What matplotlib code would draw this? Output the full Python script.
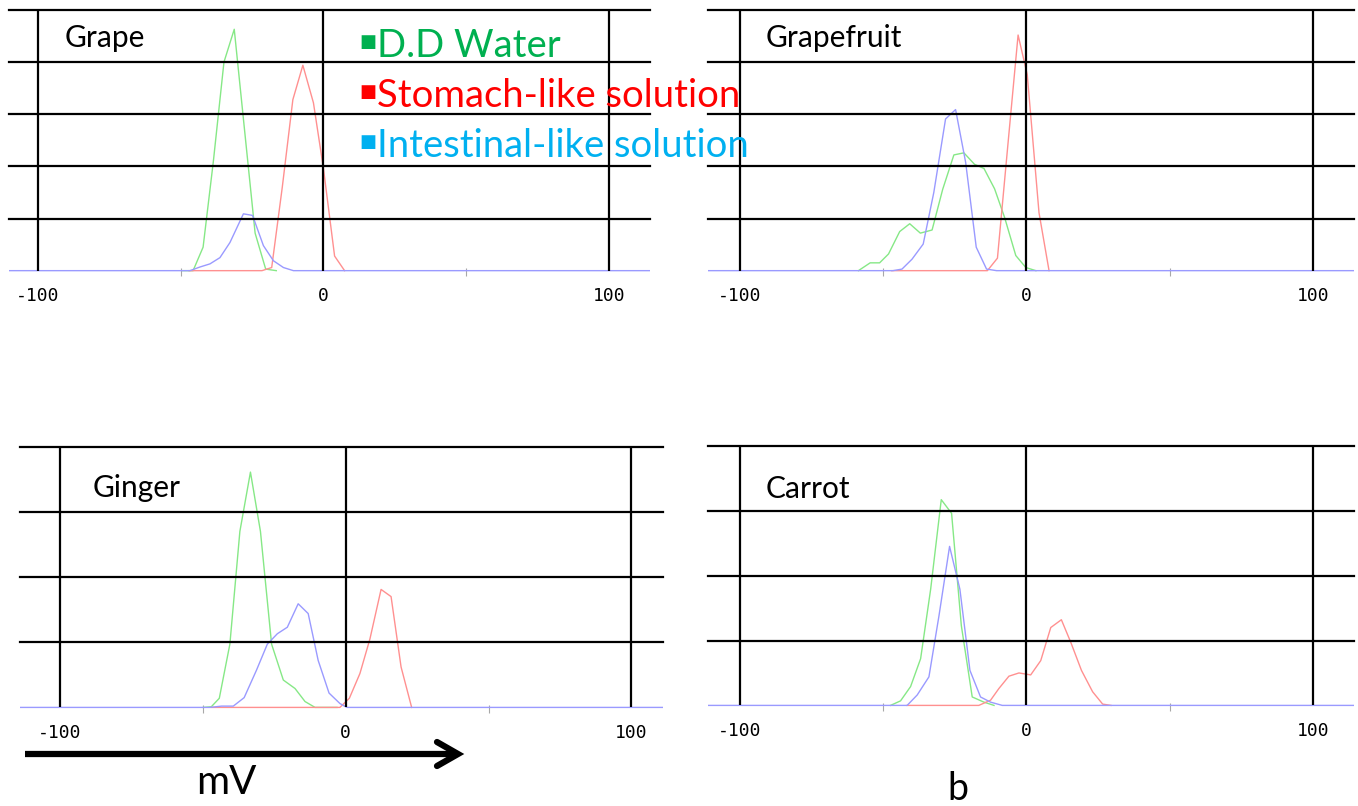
import matplotlib
matplotlib.use('Agg')
import matplotlib.pyplot as plt
from matplotlib.lines import Line2D

W, H = 1358, 806

# zeta potential distributions, x in mV, y in grid units
grape_water_x = [-49.3, -45.6, -42.1, -38.5, -34.8, -31.2, -27.6, -23.9, -20.2, -16.5]
grape_water_y = [0, 0, 0.45, 2.1, 4.0, 4.63, 2.7, 0.72, 0.03, 0]
grape_stomach_x = [-47.0, -21.5, -18.1, -14.4, -10.7, -7.2, -3.5, 0.0, 3.9, 7.4]
grape_stomach_y = [0, 0, 0.06, 1.6, 3.28, 3.94, 3.22, 1.96, 0.28, 0]
grape_intestinal_x = [-120, -46.7, -43.2, -39.7, -36.2, -32.7, -28.0, -24.8, -21.0, -17.5, -14.0, -10.5, 120]
grape_intestinal_y = [0, 0, 0.07, 0.13, 0.25, 0.54, 1.09, 1.06, 0.48, 0.19, 0.06, 0, 0]

gf_water_x = [-58.6, -54.5, -51.2, -48.1, -44.2, -40.7, -37.0, -32.9, -29.2, -25.3, -21.8, -18.1,
              -14.8, -11.1, -7.6, -3.7, -0.2, 3.3]
gf_water_y = [0, 0.15, 0.15, 0.32, 0.75, 0.90, 0.72, 0.78, 1.56, 2.22, 2.26, 2.04,
              1.96, 1.57, 1.02, 0.29, 0.06, 0]
gf_stomach_x = [-47.0, -13.6, -10.1, -6.5, -2.9, 0.3, 4.4, 7.9]
gf_stomach_y = [0, 0, 0.24, 2.39, 4.52, 3.76, 1.11, 0]
gf_intestinal_x = [-120, -46.6, -43.4, -39.9, -36.0, -32.3, -28.2, -24.7, -21.2, -17.5, -13.9, -10.4, 120]
gf_intestinal_y = [0, 0, 0.03, 0.22, 0.51, 1.5, 2.91, 3.09, 2.08, 0.45, 0.03, 0, 0]

ginger_water_x = [-49.8, -47.0, -44.2, -40.5, -37.0, -33.3, -29.8, -25.9, -21.8, -17.7, -14.2, -10.7, -3.0]
ginger_water_y = [0, 0.01, 0.14, 0.97, 2.70, 3.61, 2.70, 0.97, 0.42, 0.29, 0.09, 0, 0]
ginger_stomach_x = [-47.0, -2.0, 1.3, 5.0, 8.5, 12.4, 15.9, 19.4, 23.1]
ginger_stomach_y = [0, 0, 0.14, 0.52, 1.05, 1.81, 1.70, 0.62, 0]
ginger_intestinal_x = [-120, -47.5, -43.4, -39.3, -35.5, -31.2, -27.4, -23.9, -20.4, -16.6, -13.1,
                       -9.6, -5.8, -2.0, 0.4, 120]
ginger_intestinal_y = [0, 0, 0.02, 0.02, 0.15, 0.57, 0.97, 1.13, 1.23, 1.59, 1.44,
                       0.72, 0.22, 0.06, 0, 0]

carrot_water_x = [-47.4, -43.9, -40.4, -36.9, -33.4, -29.7, -26.1, -22.7, -18.9, -14.8, -11.3]
carrot_water_y = [0, 0.07, 0.29, 0.72, 1.79, 3.17, 2.96, 1.23, 0.13, 0.05, 0]
carrot_stomach_x = [-41.6, -16.6, -12.5, -9.6, -6.1, -2.6, 1.5, 5.0, 8.5, 12.2, 15.5, 19.2, 23.1, 26.6, 29.5]
carrot_stomach_y = [0, 0, 0.08, 0.26, 0.45, 0.50, 0.47, 0.69, 1.20, 1.32, 0.97, 0.54, 0.21, 0.02, 0]
carrot_intestinal_x = [-120, -41.6, -38.1, -34.0, -30.5, -26.8, -23.2, -19.7, -16.0, -12.5, -8.4, 120]
carrot_intestinal_y = [0, 0, 0.16, 0.44, 1.38, 2.45, 1.79, 0.54, 0.13, 0.05, 0, 0]

samples = ['Grape', 'Grapefruit', 'Ginger', 'Carrot']
legend_labels = ['D.D Water', 'Stomach-like solution', 'Intestinal-like solution']
legend_colors = ['#00b050', '#ff0000', '#00b0f0']
line_colors = ['#86e886', '#ff9090', '#9a9aff']
tick_values = [-100, 0, 100]

plt.rcParams['font.family'] = ['Lato', 'DejaVu Sans']

fig = plt.figure(figsize=(W / 100, H / 100), dpi=100)
fig.patch.set_facecolor('white')

# left, bottom, width, height / xlim / number of grid rows
panels = [
    ([0.0064, 0.6629, 0.4726, 0.3247], (-110.1, 114.4), 5,
     [(grape_water_x, grape_water_y), (grape_stomach_x, grape_stomach_y),
      (grape_intestinal_x, grape_intestinal_y)], (-90.4, 4.47)),
    ([0.5215, 0.6629, 0.4756, 0.3247], (-111.0, 114.3), 5,
     [(gf_water_x, gf_water_y), (gf_stomach_x, gf_stomach_y),
      (gf_intestinal_x, gf_intestinal_y)], (-90.8, 4.47)),
    ([0.01436, 0.1207, 0.4742, 0.3251], (-114.1, 111.2), 4,
     [(ginger_water_x, ginger_water_y), (ginger_stomach_x, ginger_stomach_y),
      (ginger_intestinal_x, ginger_intestinal_y)], (-88.6, 3.37)),
    ([0.5215, 0.1232, 0.4756, 0.3237], (-111.0, 114.3), 4,
     [(carrot_water_x, carrot_water_y), (carrot_stomach_x, carrot_stomach_y),
      (carrot_intestinal_x, carrot_intestinal_y)], (-90.8, 3.34)),
]

for name, (rect, xlim, top, series, lab) in zip(samples, panels):
    ax = fig.add_axes(rect)
    ax.set_xlim(*xlim)
    ax.set_ylim(-0.02, top)
    for s in ax.spines.values():
        s.set_visible(False)
    for (x, y), c in zip(series, line_colors):
        ax.plot(x, y, color=c, lw=1.0, zorder=2)
    for k in range(1, top + 1):
        ax.axhline(k, color='black', lw=1.6, zorder=3, clip_on=False)
    ax.vlines(tick_values, 0, top, color='black', lw=1.6, zorder=3)
    ax.set_yticks([])
    ax.set_xticks(tick_values)
    ax.set_xticklabels([str(v) for v in tick_values])
    for t in ax.get_xticklabels():
        t.set_fontfamily('DejaVu Sans Mono')
        t.set_fontsize(13)
    ax.tick_params(axis='x', which='major', length=0, pad=11)
    ax.set_xticks([-50, 50], minor=True)
    ax.tick_params(axis='x', which='minor', length=6, width=0.8, color='#a8a8a8', direction='inout')
    ax.text(lab[0], lab[1], name, fontsize=21.5, va='center', ha='left', color='black')

# legend
for i, (lbl, col) in enumerate(zip(legend_labels, legend_colors)):
    yb = 56.7 + 50 * i
    fig.text(359 / W, 1 - (yb - 15) / H, '\u25a0', family='DejaVu Sans', fontsize=13,
             color=col, ha='left', va='center')
    fig.text(377 / W, 1 - yb / H, lbl, fontsize=27.5, color=col, ha='left', va='baseline')

# mV arrow
fig.add_artist(Line2D([25 / W, 455 / W], [1 - 754 / H, 1 - 754 / H], color='black', lw=4.5,
                      solid_capstyle='butt'))
fig.add_artist(Line2D([437 / W, 458 / W, 437 / W], [1 - 742 / H, 1 - 754 / H, 1 - 766 / H],
                      color='black', lw=4.5, solid_capstyle='round', solid_joinstyle='miter'))
fig.text(226 / W, 1 - 794 / H, 'mV', fontsize=29, ha='center', va='baseline')
fig.text(958 / W, 1 - 800 / H, 'b', fontsize=27, ha='center', va='baseline')

fig.savefig('out.png', dpi=100, facecolor='white')
